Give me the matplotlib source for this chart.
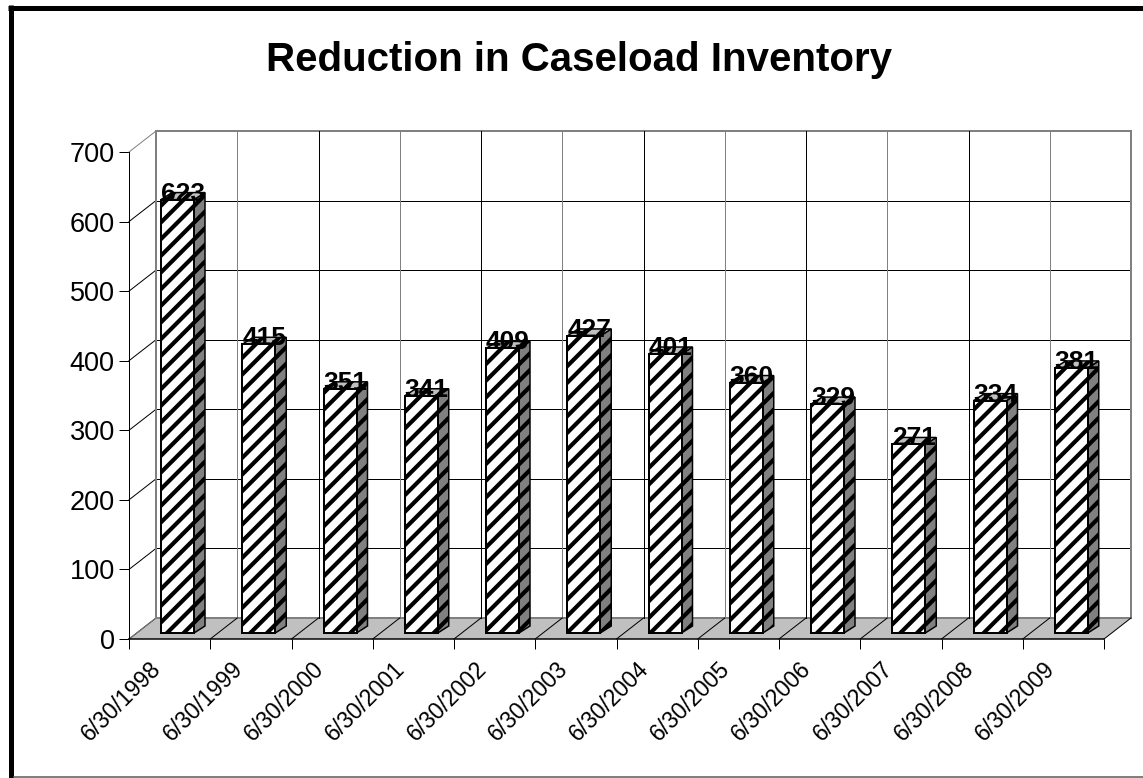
import matplotlib
matplotlib.use("Agg")
import matplotlib.pyplot as plt
from matplotlib.patches import Polygon, Rectangle
from matplotlib.lines import Line2D
from matplotlib.transforms import ScaledTranslation

plt.rcParams['font.family'] = ['Liberation Sans', 'DejaVu Sans']
plt.rcParams['hatch.linewidth'] = 3.0
plt.rcParams['hatch.color'] = 'black'

dates = ["6/30/1998", "6/30/1999", "6/30/2000", "6/30/2001", "6/30/2002", "6/30/2003",
         "6/30/2004", "6/30/2005", "6/30/2006", "6/30/2007", "6/30/2008", "6/30/2009"]
cases = [623, 415, 351, 341, 409, 427, 401, 360, 329, 271, 334, 381]
y_ticks = [0, 100, 200, 300, 400, 500, 600, 700]
title = "Reduction in Caseload Inventory"

W, H, DPI = 1143, 778, 100
fig = plt.figure(figsize=(W / DPI, H / DPI), dpi=DPI, facecolor='white')
PT = 72 / DPI  # points per pixel

fig.add_artist(Line2D([10.5 / W, 10.5 / W], [0, 1 - 5 / H], transform=fig.transFigure, color='black',
                      lw=5 * PT, solid_capstyle='butt'))
fig.add_artist(Line2D([8 / W, 1], [1 - 7.5 / H, 1 - 7.5 / H], transform=fig.transFigure, color='black',
                      lw=5 * PT, solid_capstyle='butt'))
fig.add_artist(Line2D([13 / W, 1], [1 - 777 / H, 1 - 777 / H], transform=fig.transFigure, color='#555555',
                      lw=1.5 * PT, solid_capstyle='butt'))

ax = fig.add_axes([129 / W, 1 - 639 / H, 975 / W, 487 / H])
n = len(cases)
ax.set_xlim(0, n)
ax.set_ylim(0, 700)
ax.patch.set_visible(False)
for s in ax.spines.values():
    s.set_visible(False)

pxx = n / 975   # data per pixel
pxy = 700 / 487
DX, DY = 27 * pxx, 21 * pxy       # wall depth

# floor
ax.add_patch(Polygon([(0, 0), (n, 0), (n + DX, DY), (DX, DY)], fc='#c0c0c0', ec='none', zorder=1, clip_on=False))
# gridlines on back wall
for v in y_ticks:
    ax.plot([DX, n + DX], [v + DY, v + DY], color='#808080' if v in (0, 700) else 'black',
            lw=(2 if v in (0, 700) else 1) * PT, zorder=2, clip_on=False)
    ax.plot([0, DX], [v, v + DY], color='#808080' if v == 700 else 'black', lw=1 * PT, zorder=2, clip_on=False)
for i in range(n + 1):
    edge = i in (0, n)
    ax.plot([i + DX, i + DX], [DY, 700 + DY], color='#808080' if edge or i % 2 == 1 else 'black',
            lw=(2 if edge else 1) * PT, zorder=2, clip_on=False)
    ax.plot([i, i + DX], [0, DY], color='#808080' if i == 0 else 'black', lw=1 * PT, zorder=3, clip_on=False)

# axis lines
ax.plot([0, 0], [0, 700], color='black', lw=1 * PT, zorder=3, clip_on=False)
ax.plot([0, n], [0, 0], color='black', lw=1.5 * PT, zorder=3, clip_on=False)

# bars
bx, bw = (161 - 129) * pxx, 33 * pxx
ddx, ddy = 11 * pxx, 7 * pxy
y0 = 6 * pxy
for i, v in enumerate(cases):
    x0 = i + bx
    x1 = x0 + bw
    top = v + y0
    ax.add_patch(Polygon([(x1, y0), (x1 + ddx, y0 + ddy), (x1 + ddx, top + ddy), (x1, top)],
                         fc='#808080', ec='black', hatch='//', lw=1.5 * PT, zorder=4, clip_on=False))
    ax.add_patch(Polygon([(x0, top), (x1, top), (x1 + ddx, top + ddy), (x0 + ddx, top + ddy)],
                         fc='#c0c0c0', ec='black', hatch='//', lw=1.5 * PT, zorder=4, clip_on=False))
    ax.add_patch(Rectangle((x0, y0), bw, v, fc='white', ec='black', hatch='//', lw=2 * PT, zorder=5, clip_on=False))
    ax.text(x0 + bw / 2 + 5.5 * pxx, top - 1 * pxy, str(v), ha='center', va='baseline', fontsize=19,
            fontweight='bold', color='black', zorder=6, clip_on=False)

# ticks
ax.set_yticks(y_ticks)
ax.set_yticklabels([str(v) for v in y_ticks], fontsize=19.5)
ax.set_xticks(range(n + 1))
ax.set_xticklabels([])
ax.tick_params(axis='y', length=10 * PT, width=1 * PT, pad=3)
ax.tick_params(axis='x', length=10 * PT, width=1 * PT)
ax.set_xticks([i + 0.5 for i in range(n)], minor=True)
ax.set_xticklabels(dates, minor=True, rotation=45, ha='right', rotation_mode='anchor', fontsize=16.5)
ax.tick_params(axis='x', which='minor', length=0, pad=13)
shift = ScaledTranslation(-20 * PT / 72, 0, fig.dpi_scale_trans)
for lab in ax.get_xticklabels(minor=True):
    lab.set_transform(lab.get_transform() + shift)

fig.text(579 / W, 1 - 60 / H, title, ha='center', va='center', fontsize=29, fontweight='bold')
fig.savefig("out.png", dpi=DPI)
